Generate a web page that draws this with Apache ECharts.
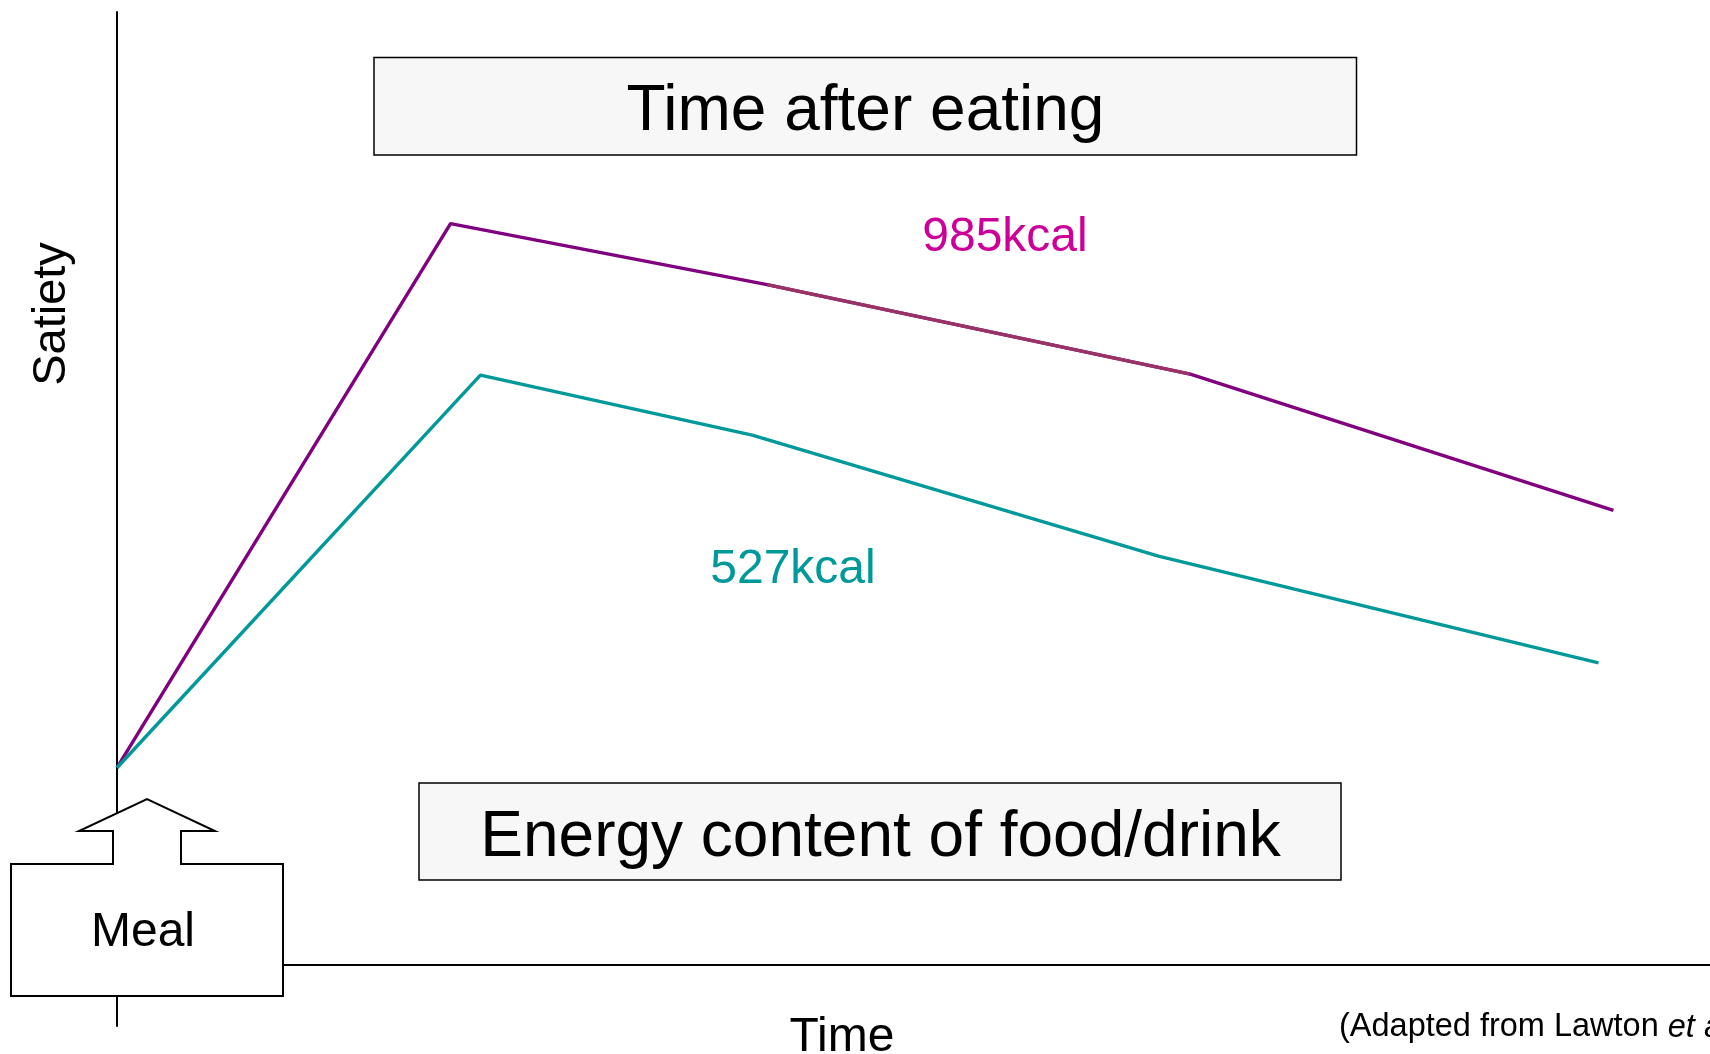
<!DOCTYPE html>
<html>
<head>
<meta charset="utf-8">
<title>Satiety after meals of different energy content</title>
<script src="https://cdn.jsdelivr.net/npm/echarts@6/dist/echarts.min.js"></script>
<style>
  html, body { margin: 0; padding: 0; background: #ffffff; }
  #chart { width: 1710px; height: 1054px; }
</style>
</head>
<body>
<div id="chart"></div>
<script>
// Satiety over time after a high-energy and a lower-energy meal (arbitrary units)
const timeHigh    = [0, 33.5, 65.3, 107.8, 150.3];
const satietyHigh = [20.7, 77.8, 71.4, 62.0, 47.7];
const timeLow     = [0, 36.5, 63.8, 104.6, 148.8];
const satietyLow  = [20.7, 61.9, 55.6, 42.9, 31.7];
// the stretch of the 985 kcal curve drawn in a warmer tone
const highMidRange = [2, 3];

const seriesNames = ['985kcal', '527kcal'];
const seriesColors = ['#800080', '#009999'];
const midColor = '#993366';
const labelColors = ['#cc0099', '#009999'];

const pairs = (xs, ys) => xs.map((x, i) => [x, ys[i]]);
const highData = pairs(timeHigh, satietyHigh);
const lowData = pairs(timeLow, satietyLow);
const highMid = highData.slice(highMidRange[0], highMidRange[1] + 1);

const FONT = '"Liberation Sans", Arial, Helvetica, sans-serif';
const chart = echarts.init(document.getElementById('chart'), null, { renderer: 'canvas' });

const lineStyle = (c) => ({ color: c, width: 3.4 });

chart.setOption({
  animation: false,
  backgroundColor: '#ffffff',
  grid: { left: 117, right: 0, top: 12, bottom: 28, containLabel: false },
  xAxis: {
    type: 'value', min: 0, max: 160,
    axisLine: { show: true, onZero: true, lineStyle: { color: '#000', width: 2 } },
    axisTick: { show: false }, axisLabel: { show: false }, splitLine: { show: false }
  },
  yAxis: {
    type: 'value', min: -6.4, max: 100,
    axisLine: { show: true, lineStyle: { color: '#000', width: 2 } },
    axisTick: { show: false }, axisLabel: { show: false }, splitLine: { show: false }
  },
  series: [
    { name: seriesNames[0], type: 'line', data: highData, symbol: 'none',
      lineStyle: lineStyle(seriesColors[0]), itemStyle: { color: seriesColors[0] }, z: 3 },
    { name: seriesNames[0] + ' mid', type: 'line', data: highMid, symbol: 'none',
      lineStyle: lineStyle(midColor), itemStyle: { color: midColor }, z: 4 },
    { name: seriesNames[1], type: 'line', data: lowData, symbol: 'none',
      lineStyle: lineStyle(seriesColors[1]), itemStyle: { color: seriesColors[1] }, z: 3 }
  ],
  graphic: [
    // heading box
    { type: 'rect', z: 100, shape: { x: 374, y: 57.5, width: 982.5, height: 97.5 },
      style: { fill: '#f7f7f7', stroke: '#000', lineWidth: 1.5 } },
    { type: 'text', z: 101, x: 865.5, y: 112,
      style: { text: 'Time after eating', font: '64px ' + FONT, fill: '#000',
               align: 'center', verticalAlign: 'middle' } },
    // lower box
    { type: 'rect', z: 100, shape: { x: 419, y: 783, width: 922, height: 97 },
      style: { fill: '#f7f7f7', stroke: '#000', lineWidth: 1.5 } },
    { type: 'text', z: 101, x: 880.5, y: 838,
      style: { text: 'Energy content of food/drink', font: '64px ' + FONT, fill: '#000',
               align: 'center', verticalAlign: 'middle' } },
    // curve labels
    { type: 'text', z: 101, x: 1005, y: 238,
      style: { text: seriesNames[0], font: '48px ' + FONT, fill: labelColors[0],
               align: 'center', verticalAlign: 'middle' } },
    { type: 'text', z: 101, x: 793, y: 570,
      style: { text: seriesNames[1], font: '48px ' + FONT, fill: labelColors[1],
               align: 'center', verticalAlign: 'middle' } },
    // meal box with arrow
    { type: 'polygon', z: 100,
      shape: { points: [[11, 864], [113, 864], [113, 831], [79, 831], [147, 799], [215, 831],
                        [181, 831], [181, 864], [283, 864], [283, 996], [11, 996]] },
      style: { fill: '#ffffff', stroke: '#000', lineWidth: 2 } },
    { type: 'text', z: 101, x: 143, y: 933,
      style: { text: 'Meal', font: '48px ' + FONT, fill: '#000',
               align: 'center', verticalAlign: 'middle' } },
    // axis titles
    { type: 'text', z: 101, x: 52, y: 314, rotation: Math.PI / 2,
      style: { text: 'Satiety', font: '47px ' + FONT, fill: '#000',
               align: 'center', verticalAlign: 'middle' } },
    { type: 'text', z: 101, x: 842, y: 1062,
      style: { text: 'Time', font: '48px ' + FONT, fill: '#000',
               align: 'center', verticalAlign: 'bottom' } },
    // source note
    { type: 'text', z: 101, x: 1339, y: 1044,
      style: { text: '(Adapted from Lawton {it|et al.}, 1993)', font: '32.5px ' + FONT, fill: '#000',
               align: 'left', verticalAlign: 'bottom',
               rich: { it: { fontStyle: 'italic', fontSize: 32.5, fontFamily: FONT, fill: '#000' } } } }
  ]
});
</script>
</body>
</html>
